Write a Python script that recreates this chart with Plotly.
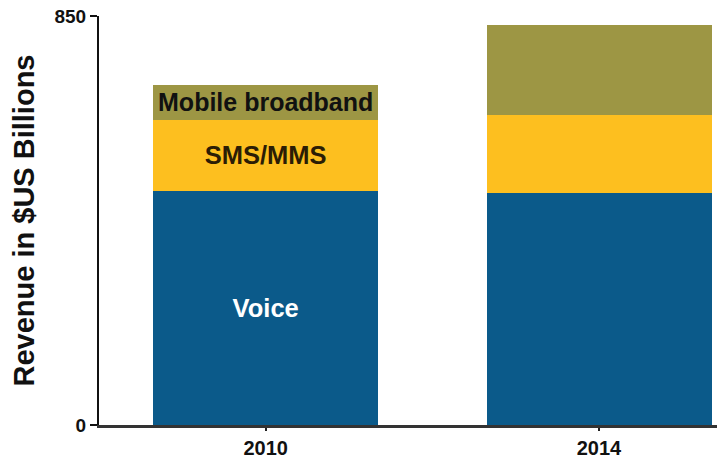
import plotly.graph_objects as go

years = ["2010", "2014"]
voice = [487, 483]
sms = [147, 161]
mobile_broadband = [73, 187]

voice_labels = ["Voice", ""]
sms_labels = ["SMS/MMS", ""]
mbb_labels = ["Mobile broadband", ""]

y_ticks = [0, 850]
y_title = "Revenue in $US Billions"

FONT = "Liberation Sans, Arial, sans-serif"

fig = go.Figure()
fig.add_trace(go.Bar(
    x=years, y=voice, name="Voice", text=voice_labels,
    marker=dict(color="#0b5a8a", line=dict(width=0)),
    textposition="inside", insidetextanchor="middle", textangle=0,
    constraintext="none",
    textfont=dict(family=FONT, size=25.5, color="white", weight="bold"),
))
fig.add_trace(go.Bar(
    x=years, y=sms, name="SMS/MMS", text=sms_labels,
    marker=dict(color="#fdbf1f", line=dict(width=0)),
    textposition="inside", insidetextanchor="middle", textangle=0,
    constraintext="none",
    textfont=dict(family=FONT, size=25.5, color="#2b1d05", weight="bold"),
))
fig.add_trace(go.Bar(
    x=years, y=mobile_broadband, name="Mobile broadband", text=mbb_labels,
    marker=dict(color="#9d9644", line=dict(width=0)),
    textposition="inside", insidetextanchor="middle", textangle=0,
    constraintext="none",
    textfont=dict(family=FONT, size=25, color="#111111", weight="bold"),
))

fig.update_layout(
    width=717, height=459,
    margin=dict(l=99, r=0, t=16, b=34),
    barmode="stack", bargap=0.325,
    showlegend=False,
    paper_bgcolor="white", plot_bgcolor="white",
    font=dict(family=FONT, color="#111111"),
)
fig.update_xaxes(
    type="category", range=[-0.5, 1.354], automargin=False,
    showline=True, linecolor="#333333", linewidth=3,
    ticks="outside", ticklen=3, tickwidth=2, tickcolor="#222222",
    tickfont=dict(family=FONT, size=20, color="#111111", weight="bold"),
    showgrid=False, zeroline=False,
)
fig.update_yaxes(
    range=[0, 850], tickvals=y_ticks, automargin=False,
    showline=True, linecolor="#111111", linewidth=2,
    ticks="outside", ticklen=7, tickwidth=2, tickcolor="#111111",
    tickfont=dict(family=FONT, size=19, color="#111111", weight="bold"),
    ticklabeloverflow="allow",
    showgrid=False, zeroline=False,
)
# y-axis title placed as a rotated annotation in the left margin
fig.add_annotation(
    text=y_title, textangle=-90, showarrow=False,
    xref="paper", yref="paper", x=0, y=0.5, xanchor="center", yanchor="middle",
    xshift=-76,
    font=dict(family=FONT, size=29, color="#111111", weight="bold"),
)

# remove the page's default body margin so the figure fills the window exactly
fig.write_html(
    "out.html",
    config={"displayModeBar": False, "staticPlot": True},
    post_script="document.body.style.margin='0';document.body.style.overflow='hidden';",
)
